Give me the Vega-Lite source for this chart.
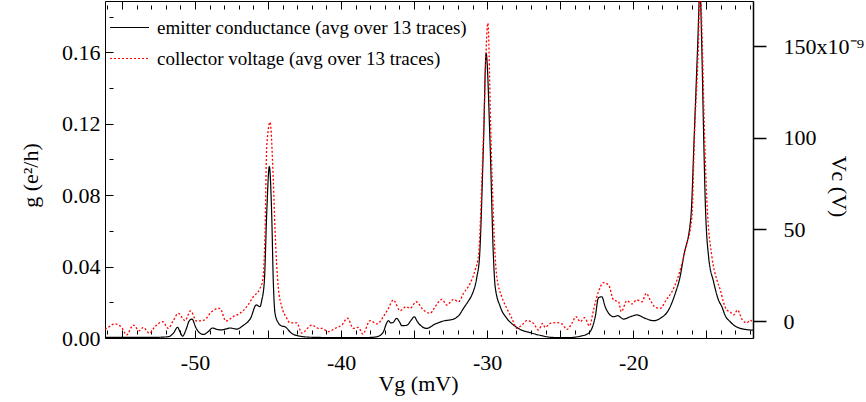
{
  "$schema": "https://vega.github.io/schema/vega-lite/v6.json",
  "autosize": {"type": "none"},
  "width": 648,
  "height": 337,
  "padding": {"left": 105, "top": 1, "right": 113, "bottom": 64},
  "background": "white",
  "config": {
    "font": "Liberation Serif",
    "view": {"stroke": "black", "strokeWidth": 1},
    "axis": {"grid": false, "labelFont": "Liberation Serif", "labelFontSize": 22, "labelColor": "black", "titleFont": "Liberation Serif", "titleFontSize": 22, "titleFontWeight": "normal", "titleColor": "black", "tickColor": "black", "domainColor": "black", "labelOverlap": false, "labelFlush": false},
    "legend": {"labelFont": "Liberation Serif", "labelFontSize": 19, "labelColor": "black", "labelLimit": 600}
  },
  "datasets": {
    "g": [
      {"vg": -56.16, "g": 0.0003}, {"vg": -54, "g": 0.0003}, {"vg": -52.5, "g": 0.0004}, {"vg": -51.8, "g": 0.0008},
      {"vg": -51.45, "g": 0.003}, {"vg": -51.2, "g": 0.006}, {"vg": -51.0, "g": 0.003}, {"vg": -50.85, "g": 0.001},
      {"vg": -50.6, "g": 0.005}, {"vg": -50.4, "g": 0.0095}, {"vg": -50.2, "g": 0.0106}, {"vg": -49.95, "g": 0.006},
      {"vg": -49.7, "g": 0.003}, {"vg": -49.4, "g": 0.002}, {"vg": -49.1, "g": 0.0035}, {"vg": -48.8, "g": 0.0056},
      {"vg": -48.5, "g": 0.0048}, {"vg": -48.2, "g": 0.0045}, {"vg": -47.9, "g": 0.005}, {"vg": -47.6, "g": 0.0056},
      {"vg": -47.15, "g": 0.005}, {"vg": -46.7, "g": 0.007}, {"vg": -46.2, "g": 0.011}, {"vg": -45.8, "g": 0.0185},
      {"vg": -45.55, "g": 0.0175}, {"vg": -45.43, "g": 0.021}, {"vg": -45.25, "g": 0.032}, {"vg": -45.09, "g": 0.0697},
      {"vg": -44.91, "g": 0.096}, {"vg": -44.75, "g": 0.0697}, {"vg": -44.64, "g": 0.032}, {"vg": -44.52, "g": 0.0138},
      {"vg": -44.3, "g": 0.0085}, {"vg": -44.06, "g": 0.0067}, {"vg": -43.84, "g": 0.0063}, {"vg": -43.5, "g": 0.0035},
      {"vg": -43.38, "g": 0.0026}, {"vg": -42.8, "g": 0.001}, {"vg": -42, "g": 0.0004}, {"vg": -40, "g": 0.0002},
      {"vg": -38, "g": 0.0003}, {"vg": -37.5, "g": 0.0008}, {"vg": -37.1, "g": 0.0035}, {"vg": -36.9, "g": 0.008},
      {"vg": -36.76, "g": 0.0097}, {"vg": -36.6, "g": 0.0085}, {"vg": -36.46, "g": 0.0086}, {"vg": -36.19, "g": 0.011},
      {"vg": -36.0, "g": 0.009}, {"vg": -35.84, "g": 0.0069}, {"vg": -35.6, "g": 0.007}, {"vg": -35.46, "g": 0.0073},
      {"vg": -35.2, "g": 0.010}, {"vg": -34.98, "g": 0.0119}, {"vg": -34.8, "g": 0.0095}, {"vg": -34.59, "g": 0.0073},
      {"vg": -34.13, "g": 0.0054}, {"vg": -33.56, "g": 0.0078}, {"vg": -33.0, "g": 0.0095}, {"vg": -32.3, "g": 0.0106},
      {"vg": -31.9, "g": 0.013}, {"vg": -31.62, "g": 0.0166}, {"vg": -31.3, "g": 0.0205}, {"vg": -31.05, "g": 0.024},
      {"vg": -30.7, "g": 0.0343}, {"vg": -30.52, "g": 0.0455}, {"vg": -30.25, "g": 0.109}, {"vg": -30.07, "g": 0.1595},
      {"vg": -29.8, "g": 0.109}, {"vg": -29.57, "g": 0.0455}, {"vg": -29.45, "g": 0.0287}, {"vg": -29.1, "g": 0.0175},
      {"vg": -28.65, "g": 0.011}, {"vg": -28.2, "g": 0.0073}, {"vg": -27.74, "g": 0.0048}, {"vg": -27.05, "g": 0.003},
      {"vg": -26.37, "g": 0.0015}, {"vg": -25.5, "g": 0.0003}, {"vg": -24.5, "g": 0.0002}, {"vg": -23.63, "g": 0.001},
      {"vg": -23.2, "g": 0.002}, {"vg": -22.95, "g": 0.0035}, {"vg": -22.6, "g": 0.0119}, {"vg": -22.38, "g": 0.0225},
      {"vg": -22.15, "g": 0.0231}, {"vg": -21.92, "g": 0.0175}, {"vg": -21.58, "g": 0.0129}, {"vg": -21.35, "g": 0.0119},
      {"vg": -21.07, "g": 0.0125}, {"vg": -20.66, "g": 0.0106}, {"vg": -20.2, "g": 0.0119}, {"vg": -19.75, "g": 0.0129},
      {"vg": -19.18, "g": 0.011}, {"vg": -18.6, "g": 0.0097}, {"vg": -18.15, "g": 0.011}, {"vg": -17.58, "g": 0.0157},
      {"vg": -17.12, "g": 0.025}, {"vg": -16.8, "g": 0.034}, {"vg": -16.55, "g": 0.0455}, {"vg": -16.05, "g": 0.068},
      {"vg": -15.82, "g": 0.114}, {"vg": -15.6, "g": 0.161}, {"vg": -15.43, "g": 0.195}, {"vg": -15.3, "g": 0.161},
      {"vg": -15.18, "g": 0.114}, {"vg": -15.07, "g": 0.077}, {"vg": -14.84, "g": 0.0455}, {"vg": -14.5, "g": 0.0315},
      {"vg": -14.16, "g": 0.0212}, {"vg": -13.93, "g": 0.0175}, {"vg": -13.7, "g": 0.0125}, {"vg": -13.36, "g": 0.0091},
      {"vg": -13.13, "g": 0.0073}, {"vg": -12.67, "g": 0.0054}, {"vg": -11.99, "g": 0.0045}, {"vg": -11.8, "g": 0.0044}
    ],
    "vc": [
      {"vg": -56.16, "vc": -4.5}, {"vg": -56.05, "vc": -4}, {"vg": -55.48, "vc": -1.6}, {"vg": -55.02, "vc": -3.5},
      {"vg": -54.68, "vc": -7.6}, {"vg": -54.22, "vc": -2.2}, {"vg": -53.81, "vc": -5.3}, {"vg": -53.54, "vc": -3.5},
      {"vg": -53.13, "vc": -6.7}, {"vg": -52.74, "vc": -3.1}, {"vg": -52.21, "vc": -0.4}, {"vg": -51.83, "vc": -4},
      {"vg": -51.5, "vc": 0}, {"vg": -51.14, "vc": 4.2}, {"vg": -50.68, "vc": 0.2}, {"vg": -50.3, "vc": 5.5},
      {"vg": -49.89, "vc": 0}, {"vg": -49.38, "vc": 0.5}, {"vg": -48.86, "vc": 5.1}, {"vg": -48.29, "vc": 6.9},
      {"vg": -47.88, "vc": 0}, {"vg": -47.38, "vc": 2.4}, {"vg": -46.92, "vc": 4.2}, {"vg": -46.46, "vc": 7.8},
      {"vg": -46.0, "vc": 13.3}, {"vg": -45.55, "vc": 17.8}, {"vg": -45.36, "vc": 22.4}, {"vg": -45.2, "vc": 49.7},
      {"vg": -45.09, "vc": 95}, {"vg": -44.86, "vc": 108.5}, {"vg": -44.64, "vc": 77}, {"vg": -44.52, "vc": 49.7},
      {"vg": -44.3, "vc": 18.7}, {"vg": -44.06, "vc": 7.8}, {"vg": -43.75, "vc": 2}, {"vg": -43.5, "vc": -1},
      {"vg": -43.03, "vc": -1}, {"vg": -42.69, "vc": -6.6}, {"vg": -42.0, "vc": -2.2}, {"vg": -41.55, "vc": -4},
      {"vg": -41.32, "vc": -4}, {"vg": -40.87, "vc": -5.8}, {"vg": -40.41, "vc": -4}, {"vg": -39.95, "vc": -2.2},
      {"vg": -39.56, "vc": 1.5}, {"vg": -39.16, "vc": -4}, {"vg": -38.81, "vc": -3.5}, {"vg": -38.51, "vc": -7.1},
      {"vg": -38.01, "vc": 0.2}, {"vg": -37.55, "vc": -1.6}, {"vg": -37.1, "vc": 2.4}, {"vg": -36.76, "vc": 6.9},
      {"vg": -36.42, "vc": 11.5}, {"vg": -35.96, "vc": 5.6}, {"vg": -35.55, "vc": 7.8}, {"vg": -35.27, "vc": 6.9},
      {"vg": -34.86, "vc": 10.5}, {"vg": -34.36, "vc": 6}, {"vg": -33.9, "vc": 4.2}, {"vg": -33.56, "vc": 7.8},
      {"vg": -33.1, "vc": 11.8}, {"vg": -32.76, "vc": 8.7}, {"vg": -32.3, "vc": 11.8}, {"vg": -31.96, "vc": 10.5},
      {"vg": -31.62, "vc": 15.1}, {"vg": -31.16, "vc": 20.6}, {"vg": -30.82, "vc": 27.9}, {"vg": -30.59, "vc": 36},
      {"vg": -30.27, "vc": 97}, {"vg": -29.95, "vc": 162.6}, {"vg": -29.73, "vc": 97}, {"vg": -29.45, "vc": 35},
      {"vg": -29.34, "vc": 24.2}, {"vg": -29.0, "vc": 13.3}, {"vg": -28.65, "vc": 6.9}, {"vg": -28.31, "vc": 1.5},
      {"vg": -27.97, "vc": -4}, {"vg": -27.62, "vc": -2.2}, {"vg": -27.28, "vc": 0.2}, {"vg": -26.83, "vc": -1.3},
      {"vg": -26.48, "vc": -4.9}, {"vg": -26.2, "vc": -1.3}, {"vg": -26.03, "vc": -3.5}, {"vg": -25.68, "vc": -1.3},
      {"vg": -25.23, "vc": -0.9}, {"vg": -24.88, "vc": -1.6}, {"vg": -24.54, "vc": -4.6}, {"vg": -24.2, "vc": -1.3},
      {"vg": -23.92, "vc": 2.4}, {"vg": -23.63, "vc": -0.4}, {"vg": -23.33, "vc": 1.8}, {"vg": -22.99, "vc": -2.7},
      {"vg": -22.72, "vc": 6}, {"vg": -22.38, "vc": 16}, {"vg": -22.03, "vc": 20.9}, {"vg": -21.69, "vc": 19.7},
      {"vg": -21.35, "vc": 11.5}, {"vg": -21.0, "vc": 10.5}, {"vg": -20.82, "vc": 5.1}, {"vg": -20.43, "vc": 11.1},
      {"vg": -20.09, "vc": 9.3}, {"vg": -19.75, "vc": 11.5}, {"vg": -19.4, "vc": 10.5}, {"vg": -19.11, "vc": 15.1},
      {"vg": -18.84, "vc": 11.5}, {"vg": -18.49, "vc": 7.5}, {"vg": -18.15, "vc": 6.9}, {"vg": -17.74, "vc": 11.5},
      {"vg": -17.35, "vc": 16}, {"vg": -17.0, "vc": 22.4}, {"vg": -16.66, "vc": 31.5}, {"vg": -16.44, "vc": 38.8},
      {"vg": -15.98, "vc": 57}, {"vg": -15.8, "vc": 102.5}, {"vg": -15.55, "vc": 148}, {"vg": -15.42, "vc": 185},
      {"vg": -15.26, "vc": 148}, {"vg": -15.12, "vc": 102.5}, {"vg": -14.96, "vc": 66}, {"vg": -14.61, "vc": 35},
      {"vg": -14.27, "vc": 22.4}, {"vg": -14.04, "vc": 17}, {"vg": -13.81, "vc": 10}, {"vg": -13.59, "vc": 6},
      {"vg": -13.36, "vc": 5}, {"vg": -13.13, "vc": 3.3}, {"vg": -12.85, "vc": 6}, {"vg": -12.56, "vc": 1},
      {"vg": -12.21, "vc": -1}, {"vg": -11.99, "vc": 0.5}, {"vg": -11.8, "vc": -1}
    ]
  },
  "resolve": {"scale": {"y": "independent"}, "axis": {"x": "independent"}},
  "layer": [
    {
      "data": {"name": "g"},
      "mark": {"type": "line", "clip": true, "strokeWidth": 1.2, "interpolate": "monotone"},
      "encoding": {
        "x": {
          "field": "vg", "type": "quantitative",
          "scale": {"domain": [-56.16, -11.8], "nice": false, "zero": false},
          "axis": {
            "orient": "bottom", "offset": -8, "title": "Vg (mV)", "titleX": 313, "titleY": 53, "titleBaseline": "middle",
            "values": [-56,-55,-54,-53,-52,-51,-50,-49,-48,-47,-46,-45,-44,-43,-42,-41,-40,-39,-38,-37,-36,-35,-34,-33,-32,-31,-30,-29,-28,-27,-26,-25,-24,-23,-22,-21,-20,-19,-18,-17,-16,-15,-14,-13,-12],
            "labelExpr": "datum.value % 10 == 0 ? '' + datum.value : ''",
            "tickSize": {"condition": {"test": "datum.value % 5 == 0", "value": 8}, "value": 4},
            "tickWidth": 1, "domain": true, "domainOpacity": 0,
            "labelPadding": 14
          }
        },
        "y": {
          "field": "g", "type": "quantitative",
          "scale": {"domain": [0, 0.1887], "nice": false, "zero": false},
          "axis": {
            "orient": "left", "offset": -8, "title": "g (e²/h)", "titleX": -83, "titleY": 174, "titleBaseline": "middle", "titleAngle": -90,
            "values": [0, 0.02, 0.04, 0.06, 0.08, 0.1, 0.12, 0.14, 0.16, 0.18],
            "labelExpr": "round(datum.value * 100) % 4 == 0 ? format(datum.value, '.2f') : ''",
            "tickSize": {"condition": {"test": "round(datum.value * 100) % 4 == 0", "value": 8}, "value": 4},
            "tickWidth": 1, "domain": true, "domainOpacity": 0,
            "labelPadding": 5
          }
        },
        "color": {
          "datum": "emitter conductance (avg over 13 traces)",
          "scale": {"domain": ["emitter conductance (avg over 13 traces)", "collector voltage (avg over 13 traces)"], "range": ["black", "#ff0000"]},
          "legend": {"title": null, "orient": "none", "legendX": 4, "legendY": 6, "symbolType": "stroke", "symbolSize": 1521, "symbolStrokeWidth": 1.2, "labelOffset": 7, "rowPadding": -12, "padding": 0}
        },
        "strokeDash": {
          "datum": "emitter conductance (avg over 13 traces)",
          "scale": {"domain": ["emitter conductance (avg over 13 traces)", "collector voltage (avg over 13 traces)"], "range": [[1, 0], [2, 2]]},
          "legend": {"title": null, "orient": "none", "legendX": 4, "legendY": 6, "symbolType": "stroke", "symbolSize": 1521, "symbolStrokeWidth": 1.2, "labelOffset": 7, "rowPadding": -12, "padding": 0}
        }
      }
    },
    {
      "data": {"name": "vc"},
      "mark": {"type": "line", "clip": true, "strokeWidth": 1.3, "interpolate": "monotone"},
      "encoding": {
        "x": {
          "field": "vg", "type": "quantitative",
          "axis": {
            "orient": "top", "offset": -8, "title": null, "labels": false,
            "values": [-56,-55,-54,-53,-52,-51,-50,-49,-48,-47,-46,-45,-44,-43,-42,-41,-40,-39,-38,-37,-36,-35,-34,-33,-32,-31,-30,-29,-28,-27,-26,-25,-24,-23,-22,-21,-20,-19,-18,-17,-16,-15,-14,-13,-12],
            "tickSize": {"condition": {"test": "datum.value % 5 == 0", "value": 8}, "value": 4},
            "tickWidth": 1, "domain": true, "domainOpacity": 0
          }
        },
        "y": {
          "field": "vc", "type": "quantitative",
          "scale": {"domain": [-9.28, 174.7], "nice": false, "zero": false},
          "axis": {
            "orient": "right", "title": "Vc (V)", "titleX": 85, "titleY": 185, "titleBaseline": "middle", "titleAngle": 90,
            "values": [0, 50, 100, 150],
            "labelExpr": "datum.value == 150 ? '150x10⁻⁹' : '' + datum.value",
            "tickSize": 13, "tickWidth": 1.5, "labelPadding": 17, "labelAlign": "left",
            "domain": true, "domainWidth": 1.5
          }
        },
        "color": {"datum": "collector voltage (avg over 13 traces)"},
        "strokeDash": {"datum": "collector voltage (avg over 13 traces)"}
      }
    }
  ]
}
